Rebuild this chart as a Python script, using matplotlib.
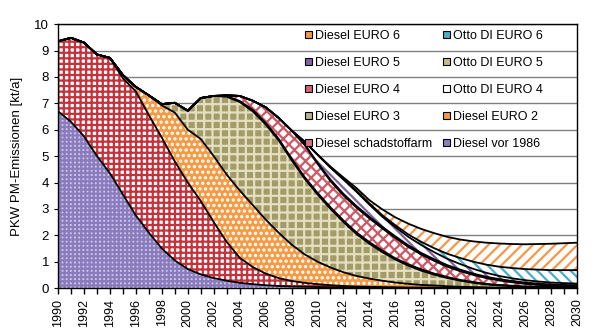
import numpy as np
import matplotlib
matplotlib.use('Agg')
import matplotlib.pyplot as plt
from matplotlib.patches import Patch

plt.rcParams['font.family'] = ['Liberation Sans', 'DejaVu Sans']
plt.rcParams['hatch.linewidth'] = 1.6

years = list(range(1990, 2031))

# PM emissions per vehicle class [kt/a], 1990..2030
vor_1986 = [6.7, 6.3, 5.75, 5.0, 4.35, 3.55, 2.75, 2.1, 1.5, 1.05,
            0.72, 0.52, 0.38, 0.28, 0.2, 0.15, 0.11, 0.08, 0.06, 0.05,
            0.04, 0.03, 0.03, 0.02, 0.02, 0.01, 0.01, 0.01, 0.01, 0.01,
            0, 0, 0, 0, 0, 0, 0, 0, 0, 0, 0]
schadstoffarm = [2.65, 3.18, 3.55, 3.85, 4.37, 4.4, 4.7, 4.45, 4.2, 3.75,
                 3.28, 2.78, 2.12, 1.47, 0.95, 0.65, 0.44, 0.3, 0.21, 0.15,
                 0.11, 0.08, 0.05, 0.04, 0.03, 0.03, 0.02, 0.01, 0.01, 0.01,
                 0.01, 0.01, 0, 0, 0, 0, 0, 0, 0, 0, 0]
diesel_e2 = [0, 0, 0, 0, 0, 0.12, 0.17, 0.75, 1.22, 1.85,
             2.0, 2.35, 2.5, 2.55, 2.55, 2.35, 2.05, 1.72, 1.38, 1.08,
             0.85, 0.67, 0.52, 0.4, 0.31, 0.24, 0.18, 0.14, 0.1, 0.08,
             0.06, 0.04, 0.04, 0.03, 0.02, 0.02, 0.01, 0.01, 0.01, 0.01, 0.01]
diesel_e3 = [0, 0, 0, 0, 0, 0, 0, 0, 0.05, 0.37,
             0.72, 1.55, 2.28, 2.95, 3.35, 3.55, 3.6, 3.5, 3.2, 2.87,
             2.55, 2.22, 1.9, 1.59, 1.32, 1.08, 0.87, 0.69, 0.54, 0.41,
             0.31, 0.23, 0.16, 0.11, 0.08, 0.05, 0.04, 0.03, 0.02, 0.01, 0.01]
otto_e4 = [0]*13 + [0.02, 0.04] + [0.06]*11 + \
          [0.05, 0.05, 0.05, 0.04, 0.04, 0.03, 0.03, 0.02, 0.02, 0.02] + [0.01]*5
diesel_e4 = [0]*13 + [0.03, 0.19, 0.34, 0.59, 0.79, 1.06, 1.22,
                      1.1, 0.99, 0.95, 0.94, 0.9, 0.84, 0.77, 0.66, 0.56, 0.48,
                      0.39, 0.33, 0.27, 0.22, 0.17, 0.13, 0.1, 0.07, 0.05, 0.04, 0.03]
otto_e5 = [0]*19 + [0.02, 0.04] + [0.06]*11 + [0.05]*9
diesel_e5 = [0]*19 + [0.1, 0.3, 0.45, 0.54, 0.54, 0.46, 0.38, 0.35, 0.32, 0.3, 0.27,
                      0.24, 0.21, 0.18, 0.15, 0.12, 0.1, 0.09, 0.08, 0.07, 0.07, 0.06]
otto_e6 = [0]*19 + [0, 0.01, 0.02, 0.03, 0.04, 0.05, 0.06, 0.07, 0.09, 0.12, 0.15,
                    0.19, 0.23, 0.27, 0.31, 0.35, 0.39, 0.42, 0.45, 0.47, 0.49, 0.51]
diesel_e6 = [0]*19 + [0, 0, 0.02, 0.05, 0.1, 0.12, 0.22, 0.3, 0.41, 0.49, 0.57,
                      0.64, 0.7, 0.77, 0.83, 0.88, 0.91, 0.94, 0.97, 1.0, 1.02, 1.04]

# bottom to top: (label, values, face, hatch colour, hatch)
layers = [
    ('Diesel vor 1986', vor_1986, '#cdc4e8', '#8a7bbd', '++++'),
    ('Diesel schadstoffarm', schadstoffarm, 'white', '#c4323c', '+++'),
    ('Diesel EURO 2', diesel_e2, '#f59a45', 'white', '...'),
    ('Diesel EURO 3', diesel_e3, '#a39b68', '#e4dfc0', '++'),
    ('Otto DI EURO 4', otto_e4, 'white', 'white', None),
    ('Diesel EURO 4', diesel_e4, 'white', '#cc5866', 'xxx'),
    ('Otto DI EURO 5', otto_e5, '#c4bd8a', '#c4bd8a', None),
    ('Diesel EURO 5', diesel_e5, 'white', '#8064a2', '\\\\\\'),
    ('Otto DI EURO 6', otto_e6, 'white', '#4bacc6', '\\\\\\'),
    ('Diesel EURO 6', diesel_e6, 'white', '#f79646', '///'),
]
legend_face = {'Diesel vor 1986': '#8b7fbf', 'Diesel schadstoffarm': '#d9707a',
               'Diesel EURO 2': '#f59a45', 'Diesel EURO 3': '#b8b088',
               'Otto DI EURO 4': 'white', 'Diesel EURO 4': '#d86070',
               'Otto DI EURO 5': '#c4bd8a', 'Diesel EURO 5': '#8064a2',
               'Otto DI EURO 6': '#4bacc6', 'Diesel EURO 6': '#f79646'}

fig = plt.figure(figsize=(6.0, 3.35), dpi=100)
ax = fig.add_axes([0.0967, 0.140, 0.865, 0.788])

x = np.array(years)
bottom = np.zeros(len(years))
tops = []
for label, vals, face, hcol, hatch in layers:
    top = bottom + np.array(vals)
    ax.fill_between(x, bottom, top, facecolor=face, edgecolor=hcol,
                    hatch=hatch, linewidth=0, zorder=2)
    tops.append(top)
    bottom = top

for top in tops:
    ax.plot(x, top, color='black', linewidth=1.3, zorder=3)

ax.set_xlim(1990, 2030)
ax.set_ylim(0, 10)
ax.set_xticks(range(1990, 2031, 2))
ax.set_xticks(range(1990, 2031), minor=True)
ax.set_xticklabels([str(y) for y in range(1990, 2031, 2)], rotation=90, fontsize=9)
ax.set_yticks(range(0, 11))
ax.tick_params(axis='y', labelsize=9.5, direction='out', length=3)
ax.tick_params(axis='x', which='both', direction='out', length=4, width=1)
ax.yaxis.grid(True, color='#808080', linewidth=1)
ax.set_axisbelow(True)
for s in ax.spines.values():
    s.set_color('black')
    s.set_linewidth(1)
ax.set_ylabel('PKW PM-Emissionen [kt/a]', fontsize=9.5, labelpad=8)

col1 = ['Diesel EURO 6', 'Diesel EURO 5', 'Diesel EURO 4', 'Diesel EURO 3', 'Diesel schadstoffarm']
col2 = ['Otto DI EURO 6', 'Otto DI EURO 5', 'Otto DI EURO 4', 'Diesel EURO 2', 'Diesel vor 1986']
handles = [Patch(facecolor=legend_face[n], edgecolor='black', linewidth=0.8, label=n)
           for n in col1 + col2]
ax.legend(handles=handles, ncol=2, loc='upper left', bbox_to_anchor=(0.465, 1.0),
          frameon=False, fontsize=9, handlelength=0.55, handleheight=0.55,
          handletextpad=0.25, labelspacing=1.2, columnspacing=0.9,
          borderpad=0.45, borderaxespad=0.0)

fig.savefig('out.png', dpi=100)
